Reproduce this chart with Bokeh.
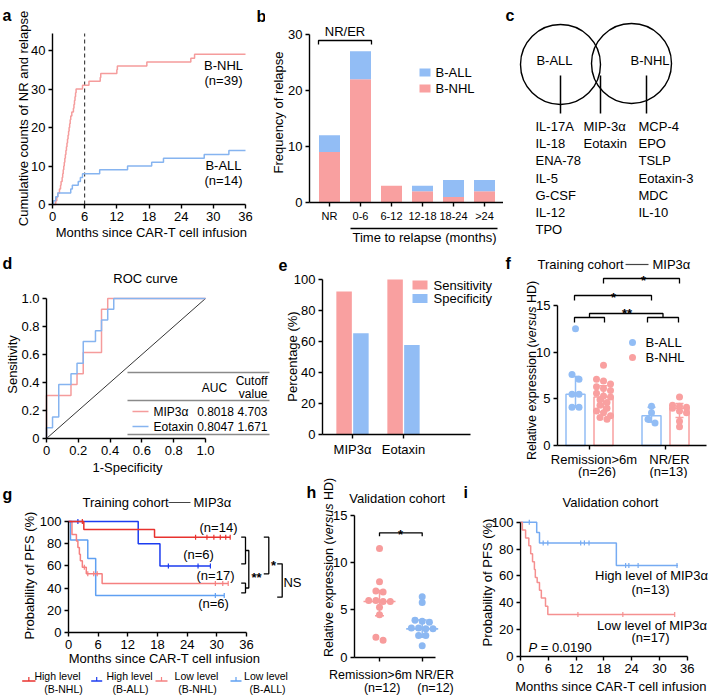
import math
from bokeh.plotting import figure
from bokeh.models import Range1d, FixedTicker
from bokeh.layouts import column, row
from bokeh.embed import file_html
from bokeh.resources import INLINE
from bokeh.core.properties import value

FONT = "Liberation Sans"
FS = 13

PINK = "#F9A0A0"
BLUE = "#92BDF5"
L_PINK = "#F59C9C"
L_BLUE = "#86B4F0"
RED = "#E8322E"
DBLUE = "#1C3CF0"
LPINK = "#F58080"
LBLUE = "#5FA0F2"

# ---------------- data ----------------
# a: cumulative counts of NR and relapse
a_nhl_months = [0, 0.6, 0.8, 1.0, 1.3, 1.5, 1.6, 1.8, 1.9, 2.0, 2.1, 2.2, 2.3, 2.4, 2.5, 2.6,
                2.7, 2.8, 2.9, 3.0, 3.1, 3.2, 3.3, 3.4, 3.6, 3.9, 4.0, 4.1, 4.2, 4.3, 4.4, 5.6,
                6.8, 8.9, 9.0, 12.0, 12.1, 17.6, 25.8, 26.5, 36]
a_nhl_counts = [0, 1, 2, 3, 4, 5, 6, 7, 8, 9, 10, 11, 12, 13, 14, 15, 16, 17, 18, 19, 20, 21,
                22, 23, 24, 25, 26, 27, 28, 29, 30, 31, 32, 33, 34, 35, 36, 37, 38, 39, 39]
a_all_months = [0, 0.2, 0.6, 1.0, 3.4, 3.7, 4.8, 5.2, 5.6, 8.8, 14.0, 18.5, 20.7, 28.3, 32.9, 36]
a_all_counts = [0, 1, 2, 3, 4, 5, 6, 7, 8, 9, 10, 11, 12, 13, 14, 14]
a_month_ticks = [0, 6, 12, 18, 24, 30, 36]
a_count_ticks = [0, 10, 20, 30, 40]

# b: frequency of relapse
b_categories = ["NR", "0-6", "6-12", "12-18", "18-24", ">24"]
b_nhl = [9, 22, 3, 2, 1, 2]
b_all = [3, 5, 0, 1, 3, 2]
b_ticks = [0, 10, 20, 30]

# c: Venn lists
c_all_only = ["IL-17A", "IL-18", "ENA-78", "IL-5", "G-CSF", "IL-12", "TPO"]
c_shared = ["MIP-3α", "Eotaxin"]
c_nhl_only = ["MCP-4", "EPO", "TSLP", "Eotaxin-3", "MDC", "IL-10"]

# d: ROC
d_mip_fpr = [0, 0, 0.154, 0.154, 0.192, 0.192, 0.231, 0.231, 0.346, 0.346, 0.385, 0.385, 1.0]
d_mip_tpr = [0, 0.308, 0.308, 0.385, 0.385, 0.462, 0.462, 0.615, 0.615, 0.923, 0.923, 1.0, 1.0]
d_eot_fpr = [0, 0, 0.038, 0.038, 0.077, 0.077, 0.154, 0.154, 0.192, 0.192, 0.231, 0.231,
             0.308, 0.308, 0.346, 0.346, 0.385, 0.385, 0.423, 0.423, 1.0]
d_eot_tpr = [0, 0.077, 0.077, 0.154, 0.154, 0.385, 0.385, 0.462, 0.462, 0.538, 0.538, 0.692,
             0.692, 0.769, 0.769, 0.846, 0.846, 0.923, 0.923, 1.0, 1.0]
d_markers = ["MIP3α", "Eotaxin"]
d_auc = ["0.8018", "0.8047"]
d_cutoff = ["4.703", "1.671"]

# e
e_markers = ["MIP3α", "Eotaxin"]
e_sensitivity = [92.3, 100.0]
e_specificity = [65.4, 57.7]

# f: training cohort MIP3a
f_groups = [("Remission>6m", "(n=26)"), ("NR/ER", "(n=13)")]
f_all_rem = [12.5, 7.6, 7.1, 5.5, 5.5, 4.1, 4.1]
f_nhl_rem = [8.6, 7.1, 6.9, 6.6, 6.3, 6.1, 5.9, 5.6, 5.3, 5.2, 4.9, 4.6, 4.3, 4.0, 3.7, 3.5, 3.2, 3.0, 2.8]
f_all_nr = [4.2, 3.5, 2.8, 2.4]
f_nhl_nr = [5.2, 4.3, 4.2, 4.1, 4.0, 3.7, 3.5, 2.6, 2.0]
f_bar = [5.5, 5.2, 3.2, 4.0]
f_err_lo = [4.1, 3.6, 2.5, 3.0]
f_err_hi = [7.4, 6.4, 4.1, 4.5]

# g: KM training cohort
g_hi_nhl_m = [0, 3.1, 17.4, 32.7]
g_hi_nhl_p = [100, 92.9, 85.7, 85.7]
g_hi_nhl_cm = [2.8, 25.7, 28.0, 29.4, 30.7, 31.8, 32.7]
g_hi_nhl_cp = [100, 85.7, 85.7, 85.7, 85.7, 85.7, 85.7]
g_hi_all_m = [0, 14.1, 18.5, 28.7]
g_hi_all_p = [100, 80, 60, 60]
g_hi_all_cm = [1.9, 20.2, 26.2, 28.7]
g_hi_all_cp = [100, 60, 60, 60]
g_lo_nhl_m = [0, 0.7, 1.6, 1.9, 2.2, 2.4, 2.8, 3.6, 6.8, 32.3]
g_lo_nhl_p = [100, 88.2, 82.4, 76.5, 70.6, 64.7, 58.8, 52.9, 44.1, 44.1]
g_lo_nhl_cm = [3.2, 3.9, 5.1, 5.8, 29.7, 31.2, 32.3]
g_lo_nhl_cp = [58.8, 52.9, 52.9, 52.9, 44.1, 44.1, 44.1]
g_lo_all_m = [0, 0.4, 3.9, 5.5, 31.5]
g_lo_all_p = [100, 83.3, 66.7, 33.3, 33.3]
g_lo_all_cm = [29.7, 31.5]
g_lo_all_cp = [33.3, 33.3]
g_n = ["(n=14)", "(n=6)", "(n=17)", "(n=6)"]
pfs_ticks = [0, 20, 40, 60, 80, 100]

# h: validation cohort
h_groups = [("Remission>6m", "(n=12)"), ("NR/ER", "(n=12)")]
h_rem = [11.5, 8.0, 7.0, 6.9, 6.0, 6.0, 5.9, 5.9, 5.3, 4.5, 2.1, 1.8]
h_nr = [6.4, 5.8, 3.9, 3.8, 3.7, 3.1, 3.1, 3.0, 3.0, 2.3, 2.3, 1.2]
h_median = [5.9, 3.0]
h_q1 = [4.4, 2.1]
h_q3 = [7.05, 3.95]

# i: KM validation cohort
i_hi_m = [0, 3.5, 4.1, 20.7, 34.0]
i_hi_p = [100, 92.3, 84.6, 67.7, 67.7]
i_hi_cm = [1.9, 4.9, 5.9, 13.0, 13.8, 14.8, 22.7, 23.4, 25.4, 33.8]
i_hi_cp = [100, 84.6, 84.6, 84.6, 84.6, 84.6, 67.7, 67.7, 67.7, 67.7]
i_lo_m = [0, 0.4, 1.1, 1.8, 2.2, 2.6, 3.0, 3.2, 3.6, 4.1, 4.5, 5.4, 5.9, 33.3]
i_lo_p = [100, 94.1, 88.2, 82.4, 76.5, 70.6, 64.7, 58.8, 55.1, 49.4, 43.6, 37.5, 31.3, 31.3]
i_lo_cm = [12.4, 22.1, 33.3]
i_lo_cp = [31.3, 31.3, 31.3]

# ---------------- helpers ----------------
AW = {' ': 278, '(': 333, ')': 333, '=': 584, '.': 278, '%': 889, '>': 584, '-': 333, '/': 278,
      'A': 667, 'B': 667, 'C': 722, 'D': 722, 'E': 667, 'H': 722, 'I': 278, 'L': 556, 'M': 833,
      'N': 722, 'P': 667, 'R': 722, 'S': 667, 'T': 611, 'a': 556, 'b': 556, 'c': 500, 'd': 556,
      'e': 556, 'f': 278, 'g': 556, 'h': 556, 'i': 222, 'l': 222, 'm': 833, 'n': 556, 'o': 556,
      'p': 556, 'r': 333, 's': 500, 't': 278, 'u': 556, 'v': 500, 'x': 500, 'y': 500}


def tw(s, size):
    return sum(AW.get(ch, 556) for ch in s) * size / 1000.0


class Panel:
    def __init__(self, cx, cy, w, h, xref, yref):
        (px1, v1), (px2, v2) = xref
        self.kx = (v2 - v1) / (px2 - px1)
        self.bx = v1 - self.kx * px1
        (py1, u1), (py2, u2) = yref
        self.ky = (u2 - u1) / (py2 - py1)
        self.by = u1 - self.ky * py1
        self.cx, self.cy, self.w, self.h = cx, cy, w, h

    def X(self, px):
        return self.bx + self.kx * px

    def Y(self, py):
        return self.by + self.ky * py

    def dx(self, n):
        return abs(self.kx) * n

    def dy(self, n):
        return abs(self.ky) * n

    def fig(self, axes=True):
        kw = {} if axes else dict(x_axis_type=None, y_axis_type=None)
        p = figure(width=self.w, height=self.h,
                   x_range=Range1d(self.X(self.cx), self.X(self.cx + self.w)),
                   y_range=Range1d(self.Y(self.cy + self.h), self.Y(self.cy)),
                   output_backend="svg", toolbar_location=None,
                   min_border=0, min_border_left=0, min_border_right=0,
                   min_border_top=0, min_border_bottom=0, **kw)
        p.title.visible = False
        p.outline_line_color = None
        p.background_fill_color = "white"
        p.border_fill_color = "white"
        if axes:
            p.grid.visible = False
        return p


def style_axis(ax, loc, bounds, ticks, labels=None, size=FS, standoff=3, tick_out=4):
    ax.fixed_location = loc
    ax.bounds = tuple(bounds)
    ax.ticker = FixedTicker(ticks=list(ticks), minor_ticks=[])
    ax.axis_line_color = "black"
    ax.axis_line_width = 1.4
    ax.major_tick_line_color = "black"
    ax.major_tick_line_width = 1.4
    ax.major_tick_in = 0
    ax.major_tick_out = tick_out
    ax.minor_tick_line_color = None
    ax.major_label_text_font = FONT
    ax.major_label_text_font_size = f"{size}px"
    ax.major_label_text_color = "black"
    ax.major_label_standoff = standoff
    if labels is not None:
        ax.major_label_overrides = labels


def txt(p, P, px, py, s, size=FS, align="center", baseline="middle", angle=0.0,
        color="black", style="normal"):
    p.text(x=[P.X(px)], y=[P.Y(py)], text=[s], text_font=value(FONT),
           text_font_size=f"{size}px", text_align=align, text_baseline=baseline,
           angle=angle, text_color=color, text_font_style=style)


def letter(p, P, px, py, s):
    txt(p, P, px, py, s, size=16, align="left", baseline="alphabetic", style="bold")


def star(p, P, px, pyc, s, size=13):
    txt(p, P, px, pyc + 0.57 * size, s, size=size, baseline="alphabetic", style="bold")


def pline(p, P, pts, color="black", width=1.3, dash="solid"):
    p.line([P.X(a) for a, b in pts], [P.Y(b) for a, b in pts], line_color=color,
           line_width=width, line_dash=dash)


def vpieces(p, P, pxc, pyc, pieces, size):
    total = sum(tw(s, size) + gap for s, st, gap in pieces)
    y = pyc + total / 2.0
    for s, st, gap in pieces:
        txt(p, P, pxc, y, s, size=size, align="left", angle=math.pi / 2, style=st)
        y -= tw(s, size) + gap


def swarm(vals, ypx, xdp, dot=7.0, maxrow=3):
    order = sorted(range(len(vals)), key=lambda i: -vals[i])
    rows = []
    for i in order:
        if rows and len(rows[-1]) < maxrow and (vals[rows[-1][0]] - vals[i]) * ypx < dot * 0.75:
            rows[-1].append(i)
        else:
            rows.append([i])
    off = [0.0] * len(vals)
    for r in rows:
        n = len(r)
        for j, i in enumerate(r):
            off[i] = (j - (n - 1) / 2.0) * dot * xdp
    return off


REL_FS = 12.5
REL_LABEL = [("Relative expression (", "normal", 0.0), ("versus", "italic", tw(" ", REL_FS)),
             ("HD)", "normal", 0.0)]

# ---------------- panel a ----------------
PA = Panel(0, 0, 265, 245, ((52, 0), (245, 36)), ((204, 0), (50, 40)))
pa = PA.fig()
style_axis(pa.xaxis[0], 0, (0, 36), a_month_ticks)
style_axis(pa.yaxis[0], 0, (0, PA.Y(33)), a_count_ticks)
pa.line([6, 6], [0, PA.Y(33)], line_color="#222222", line_width=1, line_dash="4 3")
pa.step(a_nhl_months, a_nhl_counts, mode="after", line_color=L_PINK, line_width=1.5)
pa.step(a_all_months, a_all_counts, mode="after", line_color=L_BLUE, line_width=1.5)
txt(pa, PA, 223, 65, "B-NHL")
txt(pa, PA, 223, 80, f"(n={a_nhl_counts[-1]})")
txt(pa, PA, 223, 165, "B-ALL")
txt(pa, PA, 223, 180, f"(n={a_all_counts[-1]})")
txt(pa, PA, 151, 232, "Months since CAR-T cell infusion")
txt(pa, PA, 23, 118, "Cumulative counts of NR and relapse", angle=math.pi / 2)
letter(pa, PA, 2, 15, "a")
letter(pa, PA, 256, 16, "b")

# ---------------- panel b ----------------
PB = Panel(265, 0, 238, 245, ((329, 0), (484, 5)), ((202, 0), (34, 30)))
pb = PB.fig()
bx = list(range(len(b_categories)))
style_axis(pb.xaxis[0], 0, (PB.X(309), PB.X(503)), bx, {i: c for i, c in enumerate(b_categories)},
           size=11)
style_axis(pb.yaxis[0], PB.X(309), (0, 30), b_ticks)
bw = PB.dx(21)
b_tot = [n + a for n, a in zip(b_nhl, b_all)]
pb.vbar(x=bx, bottom=0, top=b_nhl, width=bw, fill_color=PINK, line_color=None)
pb.vbar(x=bx, bottom=b_nhl, top=b_tot, width=bw, fill_color=BLUE, line_color=None)
pline(pb, PB, [(318, 44), (318, 40), (371, 40), (371, 44)])
txt(pb, PB, 344.5, 31, "NR/ER")
pb.rect(x=[PB.X(424.5)] * 2, y=[PB.Y(72), PB.Y(88)], width=11, height=8, width_units="screen",
        height_units="screen", fill_color=[BLUE, PINK], line_color=None)
txt(pb, PB, 435, 72, "B-ALL", align="left")
txt(pb, PB, 435, 88, "B-NHL", align="left")
pline(pb, PB, [(350, 228), (497, 228)])
txt(pb, PB, 424, 237, "Time to relapse (months)")
txt(pb, PB, 278, 112, "Frequency of relapse", angle=math.pi / 2)

# ---------------- panel c ----------------
PC = Panel(503, 0, 205, 245, ((0, 0), (1, 1)), ((0, 0), (1, -1)))
pc = PC.fig(axes=False)
pc.circle(x=[PC.X(560), PC.X(631)], y=[PC.Y(64), PC.Y(63)], radius=40, fill_color=None,
          line_color="black", line_width=1.4)
txt(pc, PC, 554, 60, "B-ALL")
txt(pc, PC, 649.5, 60, "B-NHL")
for xx in (560, 600, 646):
    pline(pc, PC, [(xx, 75), (xx, 113)], width=1.5)
for i, s in enumerate(c_all_only):
    txt(pc, PC, 535, 126 + 17.2 * i, s, align="left")
for i, s in enumerate(c_shared):
    txt(pc, PC, 583, 126 + 17.2 * i, s, align="left")
for i, s in enumerate(c_nhl_only):
    txt(pc, PC, 638, 126 + 17.2 * i, s, align="left")
letter(pc, PC, 505, 15, "c")

# ---------------- panel d ----------------
PD = Panel(0, 245, 275, 233, ((46, 0), (205, 1)), ((438, 0), (298, 1)))
pdd = PD.fig()
d_ticks = [0, 0.2, 0.4, 0.6, 0.8, 1]
d_lab = {0: "0", 0.2: "0.2", 0.4: "0.4", 0.6: "0.6", 0.8: "0.8", 1: "1.0"}
style_axis(pdd.xaxis[0], 0, (0, 1), d_ticks, d_lab)
style_axis(pdd.yaxis[0], 0, (0, 1), d_ticks, d_lab)
pdd.line([0, 1], [0, 1], line_color="black", line_width=0.8)
pdd.line(d_mip_fpr, d_mip_tpr, line_color=L_PINK, line_width=1.5)
pdd.line(d_eot_fpr, d_eot_tpr, line_color=L_BLUE, line_width=1.5)
for yy in (372, 400, 434):
    pline(pdd, PD, [(127, yy), (269, yy)], color="#8a8a8a", width=1.7)
txt(pdd, PD, 214, 387, "AUC", size=12)
txt(pdd, PD, 267, 380, "Cutoff", size=12, align="right")
txt(pdd, PD, 267, 393, "value", size=12, align="right")
for k, (yy, col) in enumerate(((411, L_PINK), (426, L_BLUE))):
    pline(pdd, PD, [(132, yy), (148, yy)], color=col, width=1.5)
    txt(pdd, PD, 153, yy, d_markers[k], align="left", size=12)
    txt(pdd, PD, 215, yy, d_auc[k], size=12)
    txt(pdd, PD, 267, yy, d_cutoff[k], size=12, align="right")
txt(pdd, PD, 145, 278, "ROC curve")
txt(pdd, PD, 127, 467, "1-Specificity")
txt(pdd, PD, 12, 364, "Sensitivity", angle=math.pi / 2)
letter(pdd, PD, 2, 263, "d")

# ---------------- panel e ----------------
PE = Panel(275, 245, 228, 233, ((352, 0), (403, 1)), ((434, 0), (279, 100)))
pe = PE.fig()
ex = list(range(len(e_markers)))
style_axis(pe.xaxis[0], 0, (PE.X(322), PE.X(470)), ex, {i: m for i, m in enumerate(e_markers)})
style_axis(pe.yaxis[0], PE.X(322), (0, 100), [0, 20, 40, 60, 80, 100])
eo = PE.dx(8.4)
ew = PE.dx(15.5)
pe.vbar(x=[i - eo for i in ex], top=e_sensitivity, width=ew, fill_color=PINK, line_color=None)
pe.vbar(x=[i + eo for i in ex], top=e_specificity, width=ew, fill_color=BLUE, line_color=None)
pe.rect(x=[PE.X(419.5)] * 2, y=[PE.Y(284.5), PE.Y(298)], width=15, height=9, width_units="screen",
        height_units="screen", fill_color=[PINK, BLUE], line_color=None)
txt(pe, PE, 433, 284.5, "Sensitivity", align="left")
txt(pe, PE, 433, 298, "Specificity", align="left")
txt(pe, PE, 292, 356, "Percentage (%)", angle=math.pi / 2)
letter(pe, PE, 278, 264, "e")

# ---------------- panel f ----------------
PF = Panel(503, 245, 205, 233, ((589, 0), (665, 1)), ((445, 0), (305, 15)))
pf = PF.fig()
style_axis(pf.xaxis[0], 0, (PF.X(557), PF.X(706)), [0, 1], {0: "", 1: ""})
style_axis(pf.yaxis[0], PF.X(557), (0, 15), [0, 5, 10, 15])
fo = PF.dx(14)
fx = [0 - fo, 0 + fo, 1 - fo, 1 + fo]
fcol = [BLUE, PINK, BLUE, PINK]
pf.vbar(x=fx, top=f_bar, width=PF.dx(19), fill_color="white", line_color=fcol, line_width=1.5)
fc = PF.dx(4)
pf.segment(x0=fx, y0=f_err_lo, x1=fx, y1=f_err_hi, line_color=fcol, line_width=1.5)
pf.segment(x0=[x - fc for x in fx], y0=f_err_hi, x1=[x + fc for x in fx], y1=f_err_hi,
           line_color=fcol, line_width=1.5)
pf.segment(x0=[x - fc for x in fx], y0=f_err_lo, x1=[x + fc for x in fx], y1=f_err_lo,
           line_color=fcol, line_width=1.5)
for vals, x0, c in zip([f_all_rem, f_nhl_rem, f_all_nr, f_nhl_nr], fx, fcol):
    offs = swarm(vals, 1.0 / PF.dy(1), PF.dx(1))
    pf.scatter([x0 + d for d in offs], vals, size=7, fill_color=c, line_color=None)
pline(pf, PF, [(603, 283), (603, 278), (679, 278), (679, 283)])
star(pf, PF, 643, 273, "*")
pline(pf, PF, [(574, 300), (574, 295), (651, 295), (651, 300)])
star(pf, PF, 613, 290, "*")
pline(pf, PF, [(574, 322), (574, 317), (604, 317), (604, 322)])
pline(pf, PF, [(647, 322), (647, 317), (678, 317), (678, 322)])
pline(pf, PF, [(589, 317), (589, 313), (662.5, 313), (662.5, 317)])
star(pf, PF, 626.5, 306, "**")
pf.scatter([PF.X(632)] * 2, [PF.Y(342), PF.Y(357)], size=7, fill_color=[BLUE, PINK], line_color=None)
txt(pf, PF, 645, 342, "B-ALL", align="left")
txt(pf, PF, 645, 357, "B-NHL", align="left")
txt(pf, PF, 537, 264, "Training cohort", align="left")
pline(pf, PF, [(625, 264), (648, 264)], color="#444444", width=1.2)
txt(pf, PF, 652, 264, "MIP3α", align="left")
for (l1, l2), c1, c2 in zip(f_groups, (593.5, 669), (596.5, 668)):
    txt(pf, PF, c1, 458.5, l1)
    txt(pf, PF, c2, 470.5, l2)
vpieces(pf, PF, 531, 370, REL_LABEL, REL_FS)
letter(pf, PF, 505, 263, "f")

# ---------------- panel g ----------------
PG = Panel(0, 478, 303, 219, ((68, 0), (246, 36)), ((632, 0), (521, 100)))
pg = PG.fig()
style_axis(pg.xaxis[0], 0, (0, 36), a_month_ticks)
style_axis(pg.yaxis[0], 0, (0, 100), pfs_ticks)
for m, pv, cm, cp, col in ((g_lo_all_m, g_lo_all_p, g_lo_all_cm, g_lo_all_cp, LBLUE),
                           (g_lo_nhl_m, g_lo_nhl_p, g_lo_nhl_cm, g_lo_nhl_cp, LPINK),
                           (g_hi_all_m, g_hi_all_p, g_hi_all_cm, g_hi_all_cp, DBLUE),
                           (g_hi_nhl_m, g_hi_nhl_p, g_hi_nhl_cm, g_hi_nhl_cp, RED)):
    pg.step(m, pv, mode="after", line_color=col, line_width=1.5)
    pg.scatter(cm, cp, marker="dash", angle=math.pi / 2, size=5, line_color=col, line_width=1.2)
for s, (xx, yy) in zip(g_n, ((218, 527), (198, 554), (215, 575), (213, 603))):
    txt(pg, PG, xx, yy, s)
pline(pg, PG, [(240.7, 536.7), (245, 536.7), (245, 563.3), (240.7, 563.3)])
pline(pg, PG, [(240.7, 582.7), (245, 582.7), (245, 592.3), (240.7, 592.3)])
pline(pg, PG, [(245, 550), (248.3, 550), (248.3, 587.5), (245, 587.5)])
star(pg, PG, 256, 570, "**")
pline(pg, PG, [(263.3, 536.7), (268.3, 536.7), (268.3, 573.3), (263.3, 573.3)])
star(pg, PG, 273, 558, "*")
pline(pg, PG, [(276.7, 563.3), (281.7, 563.3), (281.7, 596.7), (276.7, 596.7)])
txt(pg, PG, 292, 582, "NS", align="center")
txt(pg, PG, 82, 502, "Training cohort", align="left")
pline(pg, PG, [(168, 502), (190, 502)], color="#444444", width=1.2)
txt(pg, PG, 193, 502, "MIP3α", align="left")
txt(pg, PG, 164, 658, "Months since CAR-T cell infusion")
txt(pg, PG, 29, 575, "Probability of PFS (%)", angle=math.pi / 2)
g_legend = [(RED, 21.7, 35, "High level", "(B-NHL)", 57, 63),
            (DBLUE, 90.7, 101.7, "High level", "(B-ALL)", 129, 130),
            (LPINK, 155, 167, "Low level", "(B-NHL)", 196, 197),
            (LBLUE, 230, 241, "Low level", "(B-ALL)", 265.5, 267)]
for col, x1, x2, t1, t2, c1, c2 in g_legend:
    pline(pg, PG, [(x1, 680.5), (x2, 680.5)], color=col, width=1.5)
    pline(pg, PG, [((x1 + x2) / 2, 680.5), ((x1 + x2) / 2, 676.5)], color=col, width=1.2)
    txt(pg, PG, c1, 675.5, t1, size=10.5)
    txt(pg, PG, c2, 688, t2, size=10.5)
letter(pg, PG, 2, 494, "g")

# ---------------- panel h ----------------
PH = Panel(303, 478, 159, 219, ((379, 0), (421.7, 1)), ((656.7, 0), (515, 15)))
ph = PH.fig()
style_axis(ph.xaxis[0], 0, (PH.X(354), PH.X(435)), [0, 1], {0: "", 1: ""})
style_axis(ph.yaxis[0], PH.X(354), (0, 15), [0, 5, 10, 15])
H_PINK = "#F79C9C"
H_BLUE = "#8CB8F2"
for k, (vals, col) in enumerate(((h_rem, H_PINK), (h_nr, H_BLUE))):
    offs = swarm(vals, 1.0 / PH.dy(1), PH.dx(1), dot=7.2, maxrow=4)
    ph.scatter([k + d for d in offs], vals, size=7, fill_color=col, line_color=None)
    ph.segment(x0=[k - PH.dx(16)], y0=[h_median[k]], x1=[k + PH.dx(16)], y1=[h_median[k]],
               line_color=col, line_width=1.6)
    ph.segment(x0=[k], y0=[h_q1[k]], x1=[k], y1=[h_q3[k]], line_color=col, line_width=1.5)
    for yv in (h_q1[k], h_q3[k]):
        ph.segment(x0=[k - PH.dx(4.5)], y0=[yv], x1=[k + PH.dx(4.5)], y1=[yv],
                   line_color=col, line_width=1.5)
pline(ph, PH, [(379, 535.7), (379, 532.3), (421.7, 532.3), (421.7, 535.7)])
star(ph, PH, 400, 527, "*")
txt(ph, PH, 396.7, 498, "Validation cohort")
for (l1, l2), c1, c2 in zip(h_groups, (370, 434), (381.7, 435)):
    txt(ph, PH, c1, 674, l1, size=12.5)
    txt(ph, PH, c2, 687, l2, size=12.5)
vpieces(ph, PH, 328, 567, REL_LABEL, REL_FS)
letter(ph, PH, 306, 492, "h")

# ---------------- panel i ----------------
PI = Panel(462, 478, 246, 219, ((520, 0), (686.7, 36)), ((656, 0), (521.7, 100)))
pi_ = PI.fig()
style_axis(pi_.xaxis[0], 0, (0, 36), a_month_ticks)
style_axis(pi_.yaxis[0], 0, (0, 100), pfs_ticks)
I_PINK = "#F59090"
I_BLUE = "#76ABF2"
pi_.step(i_hi_m, i_hi_p, mode="after", line_color=I_BLUE, line_width=1.5)
pi_.scatter(i_hi_cm, i_hi_cp, marker="dash", angle=math.pi / 2, size=5, line_color=I_BLUE, line_width=1.2)
pi_.step(i_lo_m, i_lo_p, mode="after", line_color=I_PINK, line_width=1.5)
pi_.scatter(i_lo_cm, i_lo_cp, marker="dash", angle=math.pi / 2, size=5, line_color=I_PINK, line_width=1.2)
txt(pi_, PI, 610, 501.7, "Validation cohort")
txt(pi_, PI, 651, 575, "High level of MIP3α")
txt(pi_, PI, 650, 589, "(n=13)")
txt(pi_, PI, 651.5, 625, "Low level of MIP3α")
txt(pi_, PI, 650, 637.3, "(n=17)")
txt(pi_, PI, 528, 646.7, "P", align="left", style="italic")
txt(pi_, PI, 528 + tw("P", FS) + tw(" ", FS), 646.7, "= 0.0190", align="left")
txt(pi_, PI, 610.5, 686, "Months since CAR-T cell infusion")
txt(pi_, PI, 487, 582, "Probability of PFS (%)", angle=math.pi / 2)
letter(pi_, PI, 463, 492, "i")

layout = column(row(pa, pb, pc), row(pdd, pe, pf), row(pg, ph, pi_))
open("out.html", "w").write(file_html(layout, INLINE))
